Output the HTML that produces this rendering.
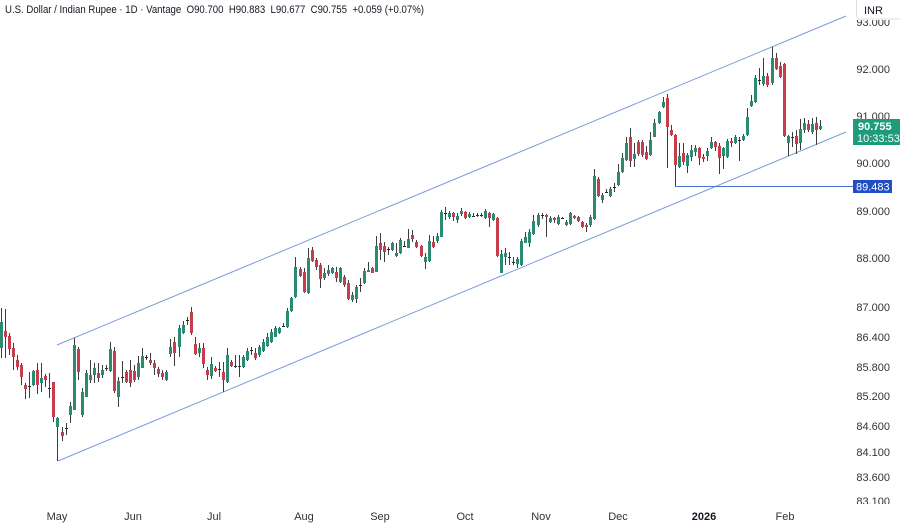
<!DOCTYPE html>
<html><head><meta charset="utf-8"><style>
html,body{margin:0;padding:0;background:#fff;}
svg{display:block;font-family:"Liberation Sans",sans-serif;}
</style></head><body>
<svg width="900" height="523" viewBox="0 0 900 523" xmlns="http://www.w3.org/2000/svg">
<rect width="900" height="523" fill="#fff"/>
<text x="5" y="13" font-size="11" fill="#131722" style="white-space:pre" textLength="419" lengthAdjust="spacingAndGlyphs">U.S. Dollar / Indian Rupee · 1D · Vantage  O90.700  H90.883  L90.677  C90.755  +0.059 (+0.07%)</text>

<!-- channel lines -->
<line x1="57" y1="345" x2="846" y2="16" stroke="#7b9ddc" stroke-width="1"/>
<line x1="58" y1="461" x2="846" y2="132" stroke="#7b9ddc" stroke-width="1"/>
<line x1="675" y1="186.5" x2="853" y2="186.5" stroke="#4a72cf" stroke-width="1"/>

<g shape-rendering="crispEdges">
<path stroke="#3d3d3d" stroke-width="1" fill="none" d="M1.5 308V358M5.5 309V358M9.5 333V355M13.5 343V370M17.5 355V370M21.5 363V385M25.5 383V399M29.5 372V398M33.5 370V386M37.5 363V394M41.5 363V392M45.5 374V387M49.5 373V398M53.5 382V422M57.5 417V461M62.5 427V441M66.5 423V435M70.5 402V423M74.5 338V410M78.5 347V380M82.5 388V417M86.5 370V397M90.5 360V383M94.5 363V383M98.5 363V382M102.5 365V378M106.5 365V371M110.5 342V372M114.5 347V393M118.5 377V407M122.5 361V383M126.5 370V383M130.5 360V387M134.5 365V382M138.5 356V380M142.5 348V368M146.5 355V360M150.5 353V365M154.5 360V375M158.5 367V377M162.5 370V380M166.5 370V381M170.5 339V357M174.5 337V366M179.5 325V357M183.5 321V334M187.5 317V325M191.5 307V335M195.5 337V355M199.5 343V357M203.5 343V368M207.5 367V380M211.5 357V379M215.5 366V372M219.5 362V377M223.5 362V392M227.5 348V383M231.5 360V367M235.5 355V368M239.5 355V377M243.5 355V368M247.5 348V361M251.5 347V355M255.5 348V360M259.5 345V357M263.5 339V352M267.5 333V347M271.5 329V343M275.5 326V337M279.5 327V334M283.5 323V327M287.5 308V328M291.5 297V312M295.5 257V298M300.5 267V277M304.5 268V293M308.5 248V294M312.5 247V262M316.5 258V270M320.5 263V288M324.5 268V280M328.5 265V276M332.5 267V274M336.5 267V282M340.5 267V283M344.5 275V287M348.5 280V300M352.5 292V302M356.5 285V303M360.5 278V292M364.5 268V284M368.5 262V272M372.5 267V273M376.5 236V272M380.5 233V260M384.5 242V262M388.5 247V255M392.5 242V251M396.5 243V257M400.5 238V254M404.5 241V247M408.5 229V248M412.5 230V242M416.5 240V248M421.5 245V257M425.5 253V269M429.5 235V262M433.5 236V248M437.5 233V243M441.5 210V237M445.5 207V220M449.5 211V219M453.5 212V221M457.5 213V223M461.5 208V216M465.5 211V219M469.5 212V218M473.5 213V217M477.5 213V217M481.5 213V217M485.5 209V219M489.5 212V227M493.5 213V221M497.5 217V257M501.5 250V273M505.5 248V265M509.5 252V265M513.5 257V265M517.5 257V268M521.5 239V266M525.5 232V243M529.5 229V247M533.5 215V235M538.5 213V227M542.5 213V219M546.5 214V237M550.5 216V223M554.5 217V223M558.5 215V225M562.5 217V219M566.5 220V226M570.5 212V225M574.5 215V219M578.5 216V222M582.5 221V228M586.5 223V232M590.5 215V227M594.5 169V220M598.5 177V197M602.5 193V203M606.5 189V193M610.5 187V197M614.5 183V192M618.5 164V186M622.5 153V173M626.5 137V161M630.5 128V167M634.5 143V167M638.5 140V156M642.5 140V157M646.5 146V160M650.5 132V156M654.5 119V137M659.5 111V124M663.5 97V108M667.5 94V168M671.5 125V136M675.5 134V186M679.5 143V168M683.5 143V165M687.5 153V173M691.5 145V161M695.5 145V156M699.5 147V165M703.5 154V162M707.5 148V161M711.5 137V149M715.5 141V151M719.5 143V174M723.5 147V169M727.5 139V158M731.5 138V147M735.5 135V144M739.5 137V161M743.5 134V141M747.5 108V136M751.5 95V107M755.5 75V103M759.5 68V85M763.5 58V86M767.5 73V87M772.5 47V85M776.5 53V70M780.5 62V78M784.5 63V137M788.5 135V156M792.5 132V147M796.5 130V154M800.5 119V150M804.5 118V133M808.5 120V132M812.5 118V134M816.5 117V145M820.5 120V130"/>

<path fill="#2b8a72" d="M0 322h3v26h-3zM32 371h3v14h-3zM40 378h3v5h-3zM56 418h3v9h-3zM69 406h3v9h-3zM73 345h3v65h-3zM81 392h3v23h-3zM85 373h3v24h-3zM89 375h3v5h-3zM93 368h3v7h-3zM101 370h3v5h-3zM109 349h3v22h-3zM117 381h3v16h-3zM137 363h3v14h-3zM141 356h3v12h-3zM165 372h3v8h-3zM169 347h3v7h-3zM178 328h3v19h-3zM182 325h3v8h-3zM198 348h3v5h-3zM210 364h3v12h-3zM226 355h3v27h-3zM242 357h3v10h-3zM246 351h3v9h-3zM258 347h3v8h-3zM262 342h3v9h-3zM266 337h3v9h-3zM270 332h3v10h-3zM274 328h3v9h-3zM278 328h3v5h-3zM286 311h3v16h-3zM290 298h3v13h-3zM294 267h3v30h-3zM307 258h3v35h-3zM323 273h3v5h-3zM327 270h3v4h-3zM331 268h3v5h-3zM339 268h3v14h-3zM351 295h3v5h-3zM355 287h3v12h-3zM363 271h3v12h-3zM367 270h3v2h-3zM375 246h3v26h-3zM391 243h3v7h-3zM395 253h3v3h-3zM399 240h3v13h-3zM407 239h3v9h-3zM424 257h3v5h-3zM428 241h3v20h-3zM436 236h3v5h-3zM440 212h3v25h-3zM448 213h3v4h-3zM456 216h3v4h-3zM460 211h3v3h-3zM468 214h3v3h-3zM484 211h3v7h-3zM492 214h3v6h-3zM500 254h3v19h-3zM504 253h3v4h-3zM516 259h3v5h-3zM520 241h3v24h-3zM524 237h3v6h-3zM528 232h3v11h-3zM532 221h3v13h-3zM537 215h3v10h-3zM549 218h3v4h-3zM557 217h3v7h-3zM565 222h3v3h-3zM569 213h3v11h-3zM589 217h3v8h-3zM593 176h3v43h-3zM601 195h3v5h-3zM609 189h3v7h-3zM617 172h3v13h-3zM621 158h3v14h-3zM625 143h3v17h-3zM633 154h3v5h-3zM649 140h3v15h-3zM653 123h3v14h-3zM658 112h3v11h-3zM662 102h3v5h-3zM678 156h3v11h-3zM686 155h3v11h-3zM690 150h3v7h-3zM694 148h3v4h-3zM706 151h3v5h-3zM710 142h3v6h-3zM722 148h3v8h-3zM726 141h3v16h-3zM734 137h3v6h-3zM742 136h3v4h-3zM746 117h3v18h-3zM750 101h3v5h-3zM754 78h3v24h-3zM762 76h3v8h-3zM771 58h3v25h-3zM787 136h3v7h-3zM799 129h3v14h-3zM803 123h3v7h-3zM811 124h3v8h-3zM819 126h3v3h-3z"/>

<path fill="#c63d4b" d="M4 331h3v6h-3zM8 336h3v13h-3zM12 348h3v9h-3zM16 360h3v7h-3zM20 365h3v12h-3zM24 385h3v4h-3zM36 370h3v15h-3zM44 376h3v4h-3zM52 382h3v35h-3zM61 432h3v4h-3zM77 349h3v23h-3zM97 373h3v5h-3zM113 351h3v40h-3zM125 372h3v10h-3zM129 370h3v13h-3zM133 371h3v9h-3zM149 360h3v3h-3zM153 363h3v5h-3zM157 369h3v5h-3zM161 373h3v4h-3zM173 342h3v11h-3zM190 312h3v21h-3zM194 344h3v10h-3zM202 348h3v16h-3zM206 370h3v5h-3zM214 368h3v3h-3zM222 372h3v8h-3zM230 362h3v4h-3zM254 353h3v5h-3zM299 269h3v7h-3zM303 272h3v20h-3zM311 250h3v11h-3zM315 260h3v7h-3zM319 265h3v14h-3zM335 272h3v6h-3zM343 277h3v8h-3zM347 283h3v16h-3zM371 268h3v5h-3zM379 243h3v7h-3zM383 246h3v6h-3zM411 235h3v4h-3zM415 242h3v5h-3zM420 246h3v10h-3zM432 242h3v5h-3zM452 213h3v4h-3zM464 212h3v6h-3zM488 213h3v5h-3zM496 218h3v38h-3zM545 215h3v2h-3zM553 218h3v2h-3zM573 216h3v2h-3zM577 217h3v4h-3zM581 222h3v5h-3zM585 225h3v2h-3zM597 179h3v17h-3zM629 137h3v24h-3zM637 142h3v12h-3zM641 142h3v13h-3zM645 152h3v7h-3zM666 98h3v29h-3zM670 130h3v5h-3zM674 135h3v30h-3zM682 153h3v9h-3zM698 148h3v10h-3zM702 157h3v2h-3zM714 142h3v5h-3zM718 146h3v12h-3zM730 141h3v2h-3zM766 76h3v9h-3zM775 58h3v11h-3zM779 66h3v11h-3zM783 64h3v72h-3zM795 136h3v8h-3zM807 124h3v6h-3zM815 123h3v7h-3z"/>

<path stroke="#2a2a2a" stroke-width="1" fill="none" d="M28 386.5h3M48 388.5h3M65 428.5h3M105 368.5h3M121 377.5h3M145 357.5h3M186 320.5h3M218 369.5h3M234 366.5h3M238 366.5h3M250 350.5h3M282 326.5h3M359 285.5h3M387 249.5h3M403 246.5h3M444 213.5h3M472 216.5h3M476 215.5h3M480 215.5h3M508 257.5h3M512 262.5h3M541 215.5h3M561 218.5h3M605 192.5h3M613 187.5h3M738 140.5h3M758 80.5h3M791 137.5h3"/>
</g>

<!-- right axis labels -->
<defs><clipPath id="ax"><rect x="850" y="20" width="50" height="484"/></clipPath></defs>
<g font-size="11" fill="#333" text-anchor="end" clip-path="url(#ax)">
<text x="890" y="26">93.000</text>
<text x="890" y="73">92.000</text>
<text x="890" y="120">91.000</text>
<text x="890" y="167">90.000</text>
<text x="890" y="215">89.000</text>
<text x="890" y="262">88.000</text>
<text x="890" y="311">87.000</text>
<text x="890" y="341">86.400</text>
<text x="890" y="371">85.800</text>
<text x="890" y="400">85.200</text>
<text x="890" y="430">84.600</text>
<text x="890" y="456">84.100</text>
<text x="890" y="481">83.600</text>
<text x="890" y="505">83.100</text>
</g>

<!-- INR box -->
<path d="M856.5 -1V15a4 4 0 0 0 4 4H901V-1z" fill="#fff" stroke="#dadde3" stroke-width="1"/>
<text x="864" y="14" font-size="11" fill="#131722">INR</text>

<!-- current price label -->
<rect x="853" y="119" width="47" height="26" fill="#1f9a7b"/>
<text x="858" y="130" font-size="11" font-weight="bold" fill="#fff">90.755</text>
<text x="857" y="142" font-size="11" fill="#fff">10:33:53</text>

<!-- horizontal line label -->
<rect x="853" y="180" width="39" height="13" fill="#1f4fc4"/>
<text x="856" y="190.5" font-size="11" fill="#fff">89.483</text>

<!-- bottom axis -->
<g font-size="11" fill="#333" text-anchor="middle">
<text x="57" y="520">May</text>
<text x="133" y="520">Jun</text>
<text x="214" y="520">Jul</text>
<text x="304" y="520">Aug</text>
<text x="380" y="520">Sep</text>
<text x="465" y="520">Oct</text>
<text x="541" y="520">Nov</text>
<text x="618" y="520">Dec</text>
<text x="704" y="520" font-weight="bold" fill="#131722">2026</text>
<text x="785" y="520">Feb</text>
</g>
</svg>
</body></html>
